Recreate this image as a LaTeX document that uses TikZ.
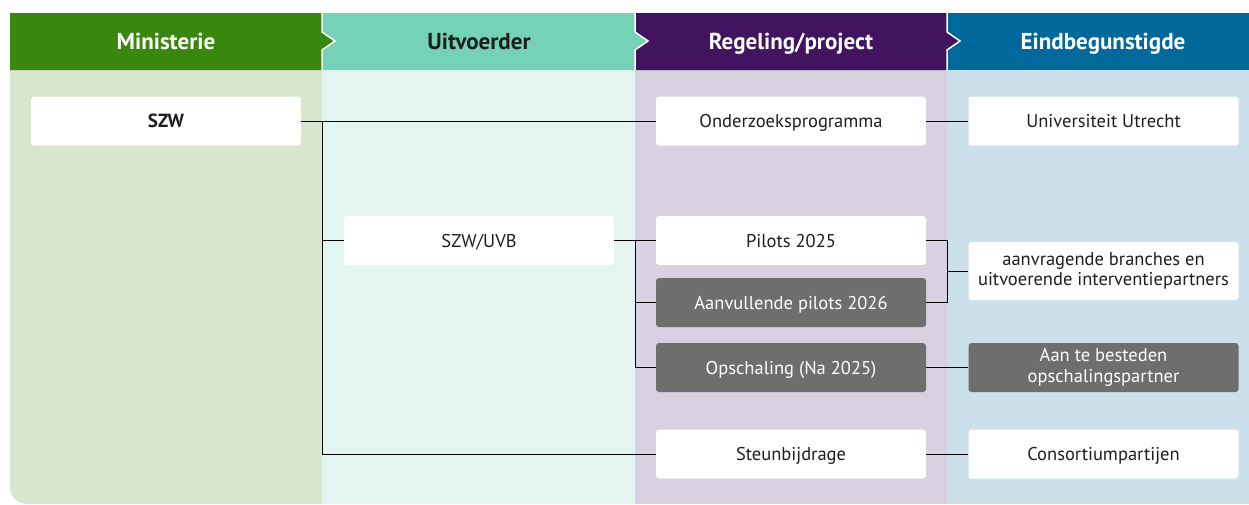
\documentclass[tikz,border=0pt]{standalone}
\usepackage{fontspec}
\setmainfont{PT Sans}
\definecolor{minhead}{HTML}{39870C}
\definecolor{minbody}{HTML}{D7E6CD}
\definecolor{uithead}{HTML}{76D2B6}
\definecolor{uitbody}{HTML}{E3F5EF}
\definecolor{reghead}{HTML}{42145F}
\definecolor{regbody}{HTML}{D9D0E1}
\definecolor{eindhead}{HTML}{01689B}
\definecolor{eindbody}{HTML}{CCE0EC}
\definecolor{graybox}{HTML}{6E6E6C}
\definecolor{txt}{HTML}{1E1E1E}
\tikzset{
  box/.style={fill=white, rounded corners=3pt, minimum width=270pt, minimum height=49pt,
    inner sep=0pt, align=center, text=txt, font=\fontsize{18.5}{20.5}\selectfont},
  one/.style={text height=17.5pt, text depth=4.5pt},
  gbox/.style={box, fill=graybox, text=white},
  conn/.style={draw=black, line width=0.9pt},
  headtxt/.style={font=\fontsize{23}{26}\selectfont\bfseries, text height=20.5pt, text depth=4.5pt, inner sep=0pt},
}
\begin{document}
\begin{tikzpicture}[x=1pt,y=-1pt]
\useasboundingbox (0,0) rectangle (1249,504);
% bodies
\fill[minbody, rounded corners=17pt] (10,40) rectangle (345,504);
\fill[uitbody] (322,70) rectangle (635,504);
\fill[regbody] (635,70) rectangle (947,504);
\fill[eindbody] (947,70) rectangle (1249,504);
% headers (right to left so tips overlap)
\fill[eindhead] (947,13) rectangle (1249,70);
\fill[reghead] (635,13) -- (947,13) -- (947,32) -- (960,41) -- (947,50) -- (947,70) -- (635,70) -- cycle;
\draw[white, line width=1.5pt] (947,13) -- (947,32) -- (960,41) -- (947,50) -- (947,70);
\fill[uithead] (322,13) -- (635,13) -- (635,32) -- (648,41) -- (635,50) -- (635,70) -- (322,70) -- cycle;
\draw[white, line width=1.5pt] (635,13) -- (635,32) -- (648,41) -- (635,50) -- (635,70);
\fill[minhead] (10,13) -- (322,13) -- (322,32) -- (335,41) -- (322,50) -- (322,70) -- (10,70) -- cycle;
\draw[white, line width=1.5pt] (322,13) -- (322,32) -- (335,41) -- (322,50) -- (322,70);
\node[headtxt, text=white] (hmin) at (166,41.5) {Ministerie};
\node[headtxt, text=txt] (huit) at (479,41.5) {Uitvoerder};
\node[headtxt, text=white] (hreg) at (791,41.5) {Regeling/project};
\node[headtxt, text=white] (heind) at (1103,41.5) {Eindbegunstigde};
% boxes
\node[box, one, font=\fontsize{19}{21}\selectfont\bfseries] (szw) at (166,121) {SZW};
\node[box, one] (onder) at (791,121) {Onderzoeksprogramma};
\node[box, one] (univ) at (1103.5,121) {Universiteit Utrecht};
\node[box, one] (uvb) at (479,240.5) {SZW/UVB};
\node[box, one] (pil) at (791,240.5) {Pilots 2025};
\node[gbox, one] (aanv) at (791,302.5) {Aanvullende pilots 2026};
\node[box, minimum height=58pt] (branch) at (1103.5,271) {aanvragende branches en\\uitvoerende interventiepartners};
\node[gbox, one] (opsch) at (791,367.5) {Opschaling (Na 2025)};
\node[gbox] (aanbest) at (1103.5,367.5) {Aan te besteden\\opschalingspartner};
\node[box, one] (steun) at (791,454) {Steunbijdrage};
\node[box, one] (cons) at (1103.5,454) {Consortiumpartijen};
% junction coordinates
\coordinate (j1) at (322,0);
\coordinate (j2) at (635,0);
\coordinate (j3) at (947,0);
% connectors
\draw[conn] (szw.east) -- (onder.west);
\draw[conn] (szw.east -| j1) |- (steun.west);
\draw[conn] (uvb.west -| j1) -- (uvb.west);
\draw[conn] (uvb.east) -- (pil.west);
\draw[conn] (pil.west -| j2) |- (opsch.west);
\draw[conn] (aanv.west -| j2) -- (aanv.west);
\draw[conn] (pil.east) -- (pil.east -| j3) -- (aanv.east -| j3) -- (aanv.east);
\draw[conn] (branch.west -| j3) -- (branch.west);
\draw[conn] (onder.east) -- (univ.west);
\draw[conn] (opsch.east) -- (aanbest.west);
\draw[conn] (steun.east) -- (cons.west);
\end{tikzpicture}
\end{document}
